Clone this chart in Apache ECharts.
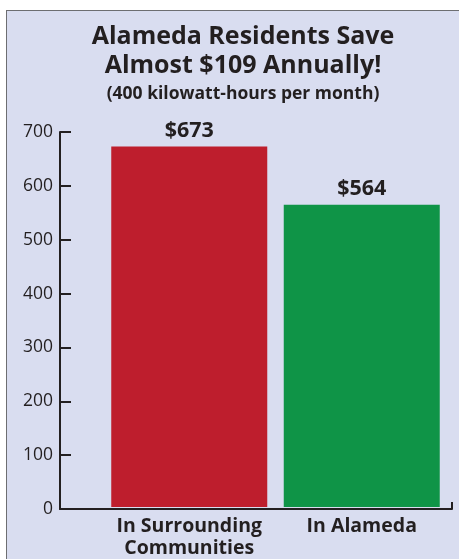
<!DOCTYPE html>
<html>
<head>
<meta charset="utf-8">
<script src="https://cdn.jsdelivr.net/npm/echarts@6/dist/echarts.min.js"></script>
<style>
  html, body { margin: 0; padding: 0; background: #fff; }
  #panel {
    position: absolute; left: 6px; top: 10px; width: 453px; height: 549px;
    background: #d9ddf0; border-top: 1px solid #6d6e71; border-left: 1px solid #6d6e71;
  }
  #chart { position: absolute; left: 0; top: 0; width: 459px; height: 559px; }
</style>
</head>
<body>
<div id="panel"></div>
<div id="chart"></div>
<script>
// ---- data ----
const categories = ['In Surrounding\nCommunities', 'In Alameda'];
const costs = [673, 564];
const barColors = ['#be1e2d', '#0f9447'];
const yTicks = { min: 0, max: 700, interval: 100 };

const ink = '#231f20';
const chart = echarts.init(document.getElementById('chart'));

chart.setOption({
  backgroundColor: 'transparent',
  animation: false,
  title: {
    text: 'Alameda Residents Save\nAlmost $109 Annually!',
    subtext: '(400 kilowatt-hours per month)',
    left: 238,
    top: 17,
    textAlign: 'center',
    itemGap: 5,
    textStyle: { fontFamily: 'Open Sans', fontWeight: 'bold', fontSize: 25, lineHeight: 29, color: ink },
    subtextStyle: { fontFamily: 'Open Sans', fontWeight: 'bold', fontSize: 17.5, color: ink }
  },
  grid: [
    { left: 103, right: 11, top: 132, bottom: 50 },
    { left: 60, right: 7, top: 132, bottom: 50 }
  ],
  xAxis: [
    {
      type: 'category', gridIndex: 0, data: categories,
      axisLine: { show: false }, axisTick: { show: false },
      axisLabel: {
        interval: 0, hideOverlap: false,
        margin: 8, color: ink, fontFamily: 'Open Sans', fontWeight: 'bold',
        fontSize: 19.5, lineHeight: 22
      }
    },
    {
      type: 'value', gridIndex: 1, min: 0, max: 1, interval: 1,
      axisLine: { lineStyle: { color: ink, width: 2 } },
      axisTick: { inside: true, length: 7, lineStyle: { color: ink, width: 2 } },
      axisLabel: { show: false }, splitLine: { show: false }
    }
  ],
  yAxis: [
    {
      type: 'value', gridIndex: 0, ...yTicks, show: false, splitLine: { show: false }
    },
    {
      type: 'value', gridIndex: 1, ...yTicks,
      axisLine: { show: true, lineStyle: { color: ink, width: 2 } },
      axisTick: { show: true, inside: true, length: 11, lineStyle: { color: ink, width: 2 } },
      axisLabel: { margin: 7, color: ink, fontFamily: 'Open Sans', fontSize: 17.5 },
      splitLine: { show: false }
    }
  ],
  series: [{
    type: 'bar',
    xAxisIndex: 0, yAxisIndex: 0,
    barWidth: 156,
    data: costs.map((v, i) => ({ value: v, itemStyle: { color: barColors[i] } })),
    label: {
      show: true, position: 'top', distance: 5,
      formatter: p => '$' + p.value,
      color: ink, fontFamily: 'Open Sans', fontWeight: 'bold', fontSize: 21.5
    }
  }]
});
</script>
</body>
</html>
